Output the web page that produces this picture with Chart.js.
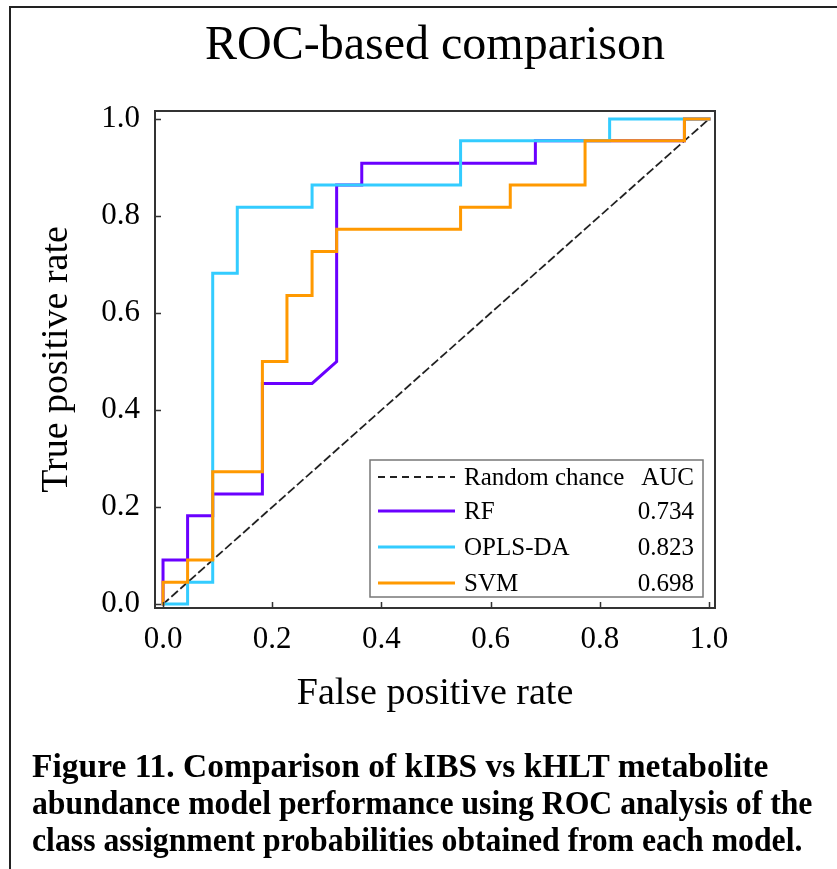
<!DOCTYPE html>
<html>
<head>
<meta charset="utf-8">
<script src="https://cdn.jsdelivr.net/npm/chart.js@4.4.1/dist/chart.umd.min.js"></script>
<style>
  html, body { margin: 0; padding: 0; background: #fff; }
  #wrap { position: relative; width: 837px; height: 869px; overflow: hidden; }
  #frame { position: absolute; left: 9px; top: 6px; right: -5px; bottom: -5px;
           border-top: 2px solid #222; border-left: 2px solid #222; }
  #chart { position: absolute; left: 0; top: 0; }
  #caption { position: absolute; left: 32px; top: 748px; width: 830px;
             font: bold 33px "Liberation Serif", "Times New Roman", serif;
             line-height: 37px; color: #000; white-space: nowrap; }
  #caption div { transform: scaleX(0.962); transform-origin: left top; }
  #caption div.wide { transform: scaleX(1.015); }
</style>
</head>
<body>
<div id="wrap">
  <div id="frame"></div>
  <canvas id="chart" width="837" height="869"></canvas>
  <div id="caption">
    <div class="wide">Figure 11. Comparison of kIBS vs kHLT metabolite</div>
    <div>abundance model performance using ROC analysis of the</div>
    <div>class assignment probabilities obtained from each model.</div>
  </div>
</div>
<script>
/* ============================
   DATA
============================ */
const xTicks = [0.0, 0.2, 0.4, 0.6, 0.8, 1.0];
const yTicks = [0.0, 0.2, 0.4, 0.6, 0.8, 1.0];

const chanceFpr = [0, 1];
const chanceTpr = [0, 1];

const rfFpr = [0, 0, 0.045, 0.045, 0.091, 0.091, 0.182, 0.182, 0.273, 0.318, 0.318, 0.364, 0.364, 0.682, 0.682, 0.955, 0.955, 1];
const rfTpr = [0, 0.091, 0.091, 0.182, 0.182, 0.227, 0.227, 0.455, 0.455, 0.5, 0.864, 0.864, 0.909, 0.909, 0.955, 0.955, 1, 1];

const oplsFpr = [0, 0.045, 0.045, 0.091, 0.091, 0.136, 0.136, 0.273, 0.273, 0.545, 0.545, 0.818, 0.818, 1];
const oplsTpr = [0, 0, 0.045, 0.045, 0.682, 0.682, 0.818, 0.818, 0.864, 0.864, 0.955, 0.955, 1, 1];

const svmFpr = [0, 0, 0.045, 0.045, 0.091, 0.091, 0.182, 0.182, 0.227, 0.227, 0.273, 0.273, 0.318, 0.318, 0.545, 0.545, 0.636, 0.636, 0.773, 0.773, 0.955, 0.955, 1];
const svmTpr = [0, 0.045, 0.045, 0.091, 0.091, 0.273, 0.273, 0.5, 0.5, 0.636, 0.636, 0.727, 0.727, 0.773, 0.773, 0.818, 0.818, 0.864, 0.864, 0.955, 0.955, 1, 1];

const legendNames = ["Random chance", "RF", "OPLS-DA", "SVM"];
const aucValues = ["AUC", "0.734", "0.823", "0.698"];

const SERIF = '"Liberation Serif", "Times New Roman", serif';
const colors = ["#222222", "#6a00ff", "#33ccff", "#ff9900"];

function toPoints(xs, ys) {
    return xs.map((x, i) => ({ x: x, y: ys[i] }));
}

/* ============================
   FRAME, INWARD TICKS, TITLE, LEGEND
============================ */
const decorPlugin = {
    id: "decor",
    afterDraw(chart) {
        const { ctx, chartArea: a, scales } = chart;
        ctx.save();

        // plot frame
        ctx.strokeStyle = "#333";
        ctx.lineWidth = 2;
        ctx.strokeRect(a.left, a.top, a.right - a.left, a.bottom - a.top);

        // inward tick marks
        ctx.lineWidth = 1.5;
        ctx.beginPath();
        xTicks.forEach(v => {
            const px = Math.round(scales.x.getPixelForValue(v)) + 0.5;
            ctx.moveTo(px, a.bottom);
            ctx.lineTo(px, a.bottom - 6);
        });
        yTicks.forEach(v => {
            const py = Math.round(scales.y.getPixelForValue(v)) + 0.5;
            ctx.moveTo(a.left, py);
            ctx.lineTo(a.left + 6, py);
        });
        ctx.stroke();

        // title centred over the plot
        ctx.fillStyle = "#000";
        ctx.font = "48px " + SERIF;
        ctx.textAlign = "center";
        ctx.textBaseline = "alphabetic";
        ctx.fillText("ROC-based comparison", (a.left + a.right) / 2, 59);

        // legend box with AUC column
        const bx = a.right - 345, by = a.bottom - 148, bw = 333, bh = 137;
        ctx.fillStyle = "#fff";
        ctx.fillRect(bx, by, bw, bh);
        ctx.strokeStyle = "#777";
        ctx.lineWidth = 1.5;
        ctx.strokeRect(bx, by, bw, bh);

        ctx.font = "25px " + SERIF;
        ctx.textBaseline = "middle";
        const rowY = [17, 51, 87, 123];
        legendNames.forEach((name, i) => {
            const y = by + rowY[i];
            ctx.beginPath();
            ctx.strokeStyle = colors[i];
            if (i === 0) {
                ctx.lineWidth = 1.8;
                ctx.setLineDash([7, 5]);
            } else {
                ctx.lineWidth = 3;
                ctx.setLineDash([]);
            }
            ctx.moveTo(bx + 8, y);
            ctx.lineTo(bx + 85, y);
            ctx.stroke();
            ctx.setLineDash([]);

            ctx.fillStyle = "#000";
            ctx.textAlign = "left";
            ctx.fillText(name, bx + 94, y + 1);
            ctx.textAlign = "right";
            ctx.fillText(aucValues[i], bx + bw - 9, y + 1);
        });

        ctx.restore();
    }
};

/* ============================
   CHART
============================ */
const ctx = document.getElementById("chart").getContext("2d");

const chart = new Chart(ctx, {
    type: "line",
    data: {
        datasets: [
            {
                label: "SVM",
                data: toPoints(svmFpr, svmTpr),
                borderColor: colors[3],
                borderWidth: 3,
                order: 1
            },
            {
                label: "OPLS-DA",
                data: toPoints(oplsFpr, oplsTpr),
                borderColor: colors[2],
                borderWidth: 3,
                order: 2
            },
            {
                label: "RF",
                data: toPoints(rfFpr, rfTpr),
                borderColor: colors[1],
                borderWidth: 3,
                order: 3
            },
            {
                label: "Random chance",
                data: toPoints(chanceFpr, chanceTpr),
                borderColor: colors[0],
                borderWidth: 1.8,
                borderDash: [7, 5],
                order: 4
            }
        ]
    },
    options: {
        responsive: false,
        animation: false,
        devicePixelRatio: 1,
        elements: {
            point: { radius: 0, hoverRadius: 0 },
            line: { tension: 0, fill: false, borderCapStyle: "square", borderJoinStyle: "miter" }
        },
        layout: { padding: { left: 0, top: 111, right: 122, bottom: 141 } },
        plugins: {
            legend: { display: false },
            title: { display: false },
            tooltip: { enabled: false }
        },
        scales: {
            x: {
                type: "linear",
                min: -0.0147,
                max: 1.011,
                grid: { display: false, drawTicks: false },
                border: { display: false },
                afterBuildTicks: scale => { scale.ticks = xTicks.map(v => ({ value: v })); },
                afterFit: scale => { scale.height = 120; },
                ticks: {
                    padding: 13,
                    color: "#000",
                    font: { family: SERIF, size: 31 },
                    callback: v => v.toFixed(1)
                },
                title: {
                    display: true,
                    text: "False positive rate",
                    color: "#000",
                    font: { family: SERIF, size: 38 },
                    padding: { top: 0, bottom: 11 }
                }
            },
            y: {
                type: "linear",
                min: -0.008,
                max: 1.0165,
                grid: { display: false, drawTicks: false },
                border: { display: false },
                afterBuildTicks: scale => { scale.ticks = yTicks.map(v => ({ value: v })); },
                afterFit: scale => { scale.width = 155; },
                ticks: {
                    padding: 15,
                    color: "#000",
                    font: { family: SERIF, size: 31 },
                    callback: v => v.toFixed(1)
                },
                title: {
                    display: true,
                    text: "True positive rate",
                    color: "#000",
                    font: { family: SERIF, size: 38 },
                    padding: { top: 34, bottom: 0 }
                }
            }
        }
    },
    plugins: [decorPlugin]
});
</script>
</body>
</html>
